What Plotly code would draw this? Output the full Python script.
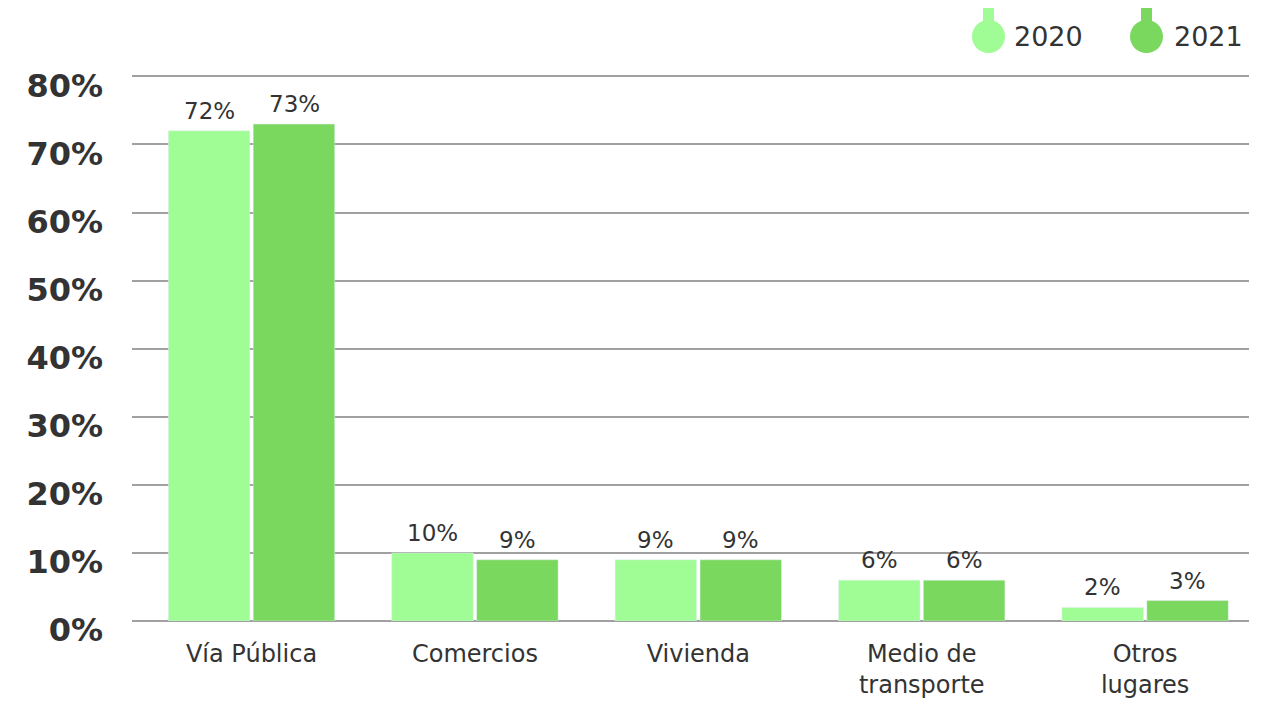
import plotly.graph_objects as go

categories = ['Vía Pública', 'Comercios', 'Vivienda', 'Medio de<br>transporte', 'Otros<br>lugares']
values_2020 = [72, 10, 9, 6, 2]
values_2021 = [73, 9, 9, 6, 3]
tick_vals = [0, 10, 20, 30, 40, 50, 60, 70, 80]
tick_text = [f'{v}%' for v in tick_vals]

colours = {'2020': '#a0fc94', '2021': '#7bd85f'}
W, H = 1271, 702
# page body has an 8px margin, so margins are trimmed to keep the plot where it should be
ml, mr, mt, mb = 124, 30, 67, 89

fig = go.Figure()
for name, vals in [('2020', values_2020), ('2021', values_2021)]:
    fig.add_trace(go.Bar(x=categories, y=vals, name=name, marker_color=colours[name],
                         showlegend=False))

annotations = []
# value labels above the bars, lifted a little more than plotly's outside text
for shift, vals in [(-42.5, values_2020), (42.5, values_2021)]:
    for c, v in zip(categories, vals):
        annotations.append(dict(x=c, y=v, text=f'{v}%', showarrow=False, xshift=shift, yshift=5,
                                yanchor='bottom', font=dict(size=23, color='#333333')))

# legend drawn by hand: circle with a small stem on top
def px_to_paper(x, y):
    x, y = x - 8, y - 8
    return (x - ml) / (W - ml - mr), (H - mb - y) / (H - mt - mb)

shapes = []
for name, cx, tx in [('2020', 988.5, 1012), ('2021', 1146.5, 1172)]:
    px, py = px_to_paper(cx, 36.5)
    shapes.append(dict(type='rect', xref='paper', yref='paper', xsizemode='pixel', ysizemode='pixel',
                       xanchor=px, yanchor=py, x0=-5.5, x1=5.5, y0=10, y1=29,
                       fillcolor=colours[name], line_width=0))
    shapes.append(dict(type='circle', xref='paper', yref='paper', xsizemode='pixel', ysizemode='pixel',
                       xanchor=px, yanchor=py, x0=-16.5, x1=16.5, y0=-16.5, y1=16.5,
                       fillcolor=colours[name], line_width=0))
    ax, ay = px_to_paper(tx, 36.5)
    annotations.append(dict(text=name, xref='paper', yref='paper', x=ax, y=ay, xanchor='left',
                            yanchor='middle', showarrow=False, font=dict(size=27, color='#333333')))

fig.update_layout(width=W, height=H, margin=dict(l=ml, r=mr, t=mt, b=mb),
                  barmode='group', bargap=0.24, bargroupgap=0.04,
                  plot_bgcolor='white', paper_bgcolor='white',
                  font=dict(family='DejaVu Sans', color='#333333'),
                  shapes=shapes, annotations=annotations)
fig.update_xaxes(range=[-0.535, 4.465], tickfont=dict(size=24, color='#333333'), showgrid=False,
                 ticks='', showline=False, ticklabelstandoff=16)
fig.update_yaxes(range=[0, 80.2], tickvals=tick_vals, ticktext=tick_text,
                 tickfont=dict(size=32, color='#333333', weight='bold'),
                 showgrid=True, gridcolor='#a0a0a0', gridwidth=1.5,
                 zeroline=True, zerolinecolor='#a0a0a0', zerolinewidth=2,
                 ticks='', ticklabelstandoff=28, ticklabelshift=9)

fig.write_html("out.html")
